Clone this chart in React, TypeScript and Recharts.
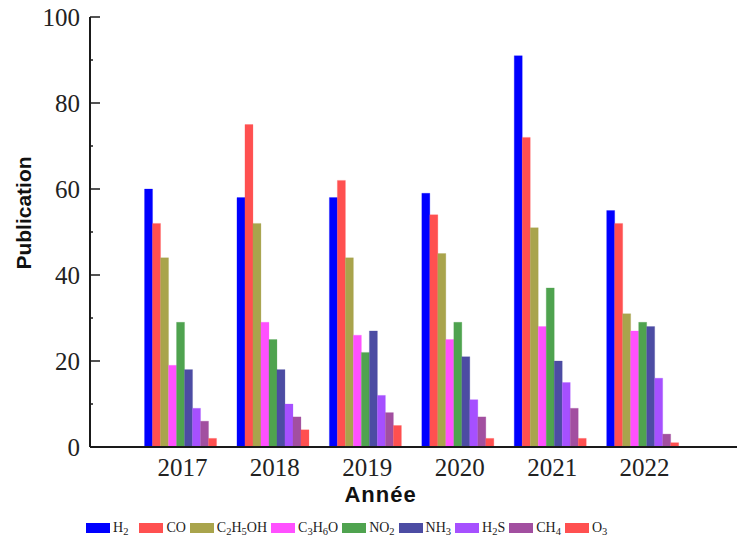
import React from 'react';
import { BarChart, Bar, XAxis, YAxis, Legend, Label } from 'recharts';

const years = [2017, 2018, 2019, 2020, 2021, 2022];
const h2 = [60, 58, 58, 59, 91, 55];
const co = [52, 75, 62, 54, 72, 52];
const c2h5oh = [44, 52, 44, 45, 51, 31];
const c3h6o = [19, 29, 26, 25, 28, 27];
const no2 = [29, 25, 22, 29, 37, 29];
const nh3 = [18, 18, 27, 21, 20, 28];
const h2s = [9, 10, 12, 11, 15, 16];
const ch4 = [6, 7, 8, 7, 9, 3];
const o3 = [2, 4, 5, 2, 2, 1];

const seriesNames = ['H2', 'CO', 'C2H5OH', 'C3H6O', 'NO2', 'NH3', 'H2S', 'CH4', 'O3'];
const seriesValues = [h2, co, c2h5oh, c3h6o, no2, nh3, h2s, ch4, o3];
const seriesColors = ['#0000FF', '#FF5050', '#A9A44C', '#FF50FF', '#4FA34F', '#4C4CA3', '#A650FF', '#A24FA0', '#FF5050'];

const yTicks = [0, 10, 20, 30, 40, 50, 60, 70, 80, 90, 100];

const data = years.map((year, i) => {
  const row: Record<string, number> = { year };
  seriesNames.forEach((name, s) => {
    row[name] = seriesValues[s][i];
  });
  return row;
});

const AXIS = '#1a1a1a';
const SERIF = '"Liberation Serif", "Times New Roman", serif';
const SANS = '"Liberation Sans", Arial, sans-serif';

// chemical formula -> digits as subscripts
const Formula = ({ text }: { text: string }) => (
  <span>
    {text.split(/(\d+)/).filter(Boolean).map((part, i) =>
      /\d/.test(part) ? (
        <sub key={i} style={{ fontSize: '0.75em', verticalAlign: '-0.25em', lineHeight: 0 }}>{part}</sub>
      ) : (
        <span key={i}>{part}</span>
      )
    )}
  </span>
);

const LeftTick = (props: any) => {
  const { x, y, payload } = props;
  const ax = x + 10;
  const major = payload.value % 20 === 0;
  return (
    <g>
      <line x1={ax} x2={ax + (major ? 10 : 3)} y1={y} y2={y} stroke={AXIS} strokeWidth={1.5} />
      {major && (
        <text x={x} y={y} dy="0.35em" textAnchor="end" fontFamily={SERIF} fontSize={25} fill="#222">
          {payload.value}
        </text>
      )}
    </g>
  );
};

const RightTick = (props: any) => {
  const { x, y } = props;
  return <line x1={x - 3} x2={x} y1={y} y2={y} stroke={AXIS} strokeWidth={1.2} />;
};

const TopTick = (props: any) => {
  const { x, y } = props;
  return <line x1={x} x2={x} y1={y} y2={y + 3} stroke={AXIS} strokeWidth={1.2} />;
};

const LegendContent = () => (
  <div
    style={{
      display: 'flex',
      alignItems: 'center',
      paddingLeft: 86,
      paddingTop: 14,
      fontFamily: SERIF,
      fontSize: 14,
      color: '#222',
      lineHeight: '14px',
    }}
  >
    {seriesNames.map((name, i) => (
      <div key={name} style={{ display: 'flex', alignItems: 'center', marginRight: i === 0 ? 11 : 4 }}>
        <span style={{ display: 'inline-block', width: 24, height: 10, background: seriesColors[i], marginRight: 3 }} />
        <Formula text={name} />
      </div>
    ))}
  </div>
);

const PubLabel = () => (
  <text
    x={23}
    y={213}
    transform="rotate(-90, 23, 213)"
    textAnchor="middle"
    dominantBaseline="central"
    fontFamily={SANS}
    fontWeight="bold"
    fontSize={21}
    fill="#111"
  >
    Publication
  </text>
);

export default function App() {
  return (
    <div style={{ position: 'absolute', left: 0, top: 0, background: '#fff' }}>
      <BarChart
        width={741}
        height={537}
        data={data}
        margin={{ top: 17, right: 4, left: 0, bottom: 0 }}
        barCategoryGap="9%"
        barGap={0}
      >
        <XAxis
          dataKey="year"
          type="number"
          domain={[2016, 2023]}
          ticks={years}
          interval={0}
          height={60}
          tickSize={0}
          tickMargin={11}
          tickLine={false}
          axisLine={{ stroke: AXIS, strokeWidth: 2 }}
          tick={{ fontFamily: SERIF, fontSize: 25, fill: '#222' }}
        >
          <Label
            value="Année"
            position="insideBottom"
            offset={5}
            dx={-33}
            style={{ fontFamily: SANS, fontWeight: 'bold', fontSize: 22, fill: '#111', letterSpacing: 1 }}
          />
        </XAxis>
        <XAxis
          xAxisId="top"
          orientation="top"
          dataKey="year"
          type="number"
          domain={[2016, 2023]}
          ticks={years}
          interval={0}
          height={0}
          tickSize={0}
          tickMargin={0}
          tickLine={false}
          axisLine={{ stroke: AXIS, strokeWidth: 1.5 }}
          tick={<TopTick />}
        />
        <YAxis
          domain={[0, 100]}
          ticks={yTicks}
          interval={0}
          width={90}
          tickSize={0}
          tickMargin={10}
          tickLine={false}
          axisLine={{ stroke: AXIS, strokeWidth: 2 }}
          tick={<LeftTick />}
        >
          <Label content={<PubLabel />} />
        </YAxis>
        <YAxis
          yAxisId="right"
          orientation="right"
          domain={[0, 100]}
          ticks={yTicks}
          interval={0}
          width={0}
          tickSize={0}
          tickMargin={0}
          tickLine={false}
          axisLine={{ stroke: AXIS, strokeWidth: 1.5 }}
          tick={<RightTick />}
        />
        <Legend verticalAlign="bottom" height={30} content={<LegendContent />} />
        {seriesNames.map((name, i) => (
          <Bar
            key={name}
            dataKey={name}
            fill={seriesColors[i]}
            stroke={seriesColors[i]}
            strokeOpacity={0.25}
            strokeWidth={1}
            isAnimationActive={false}
          />
        ))}
      </BarChart>
    </div>
  );
}
